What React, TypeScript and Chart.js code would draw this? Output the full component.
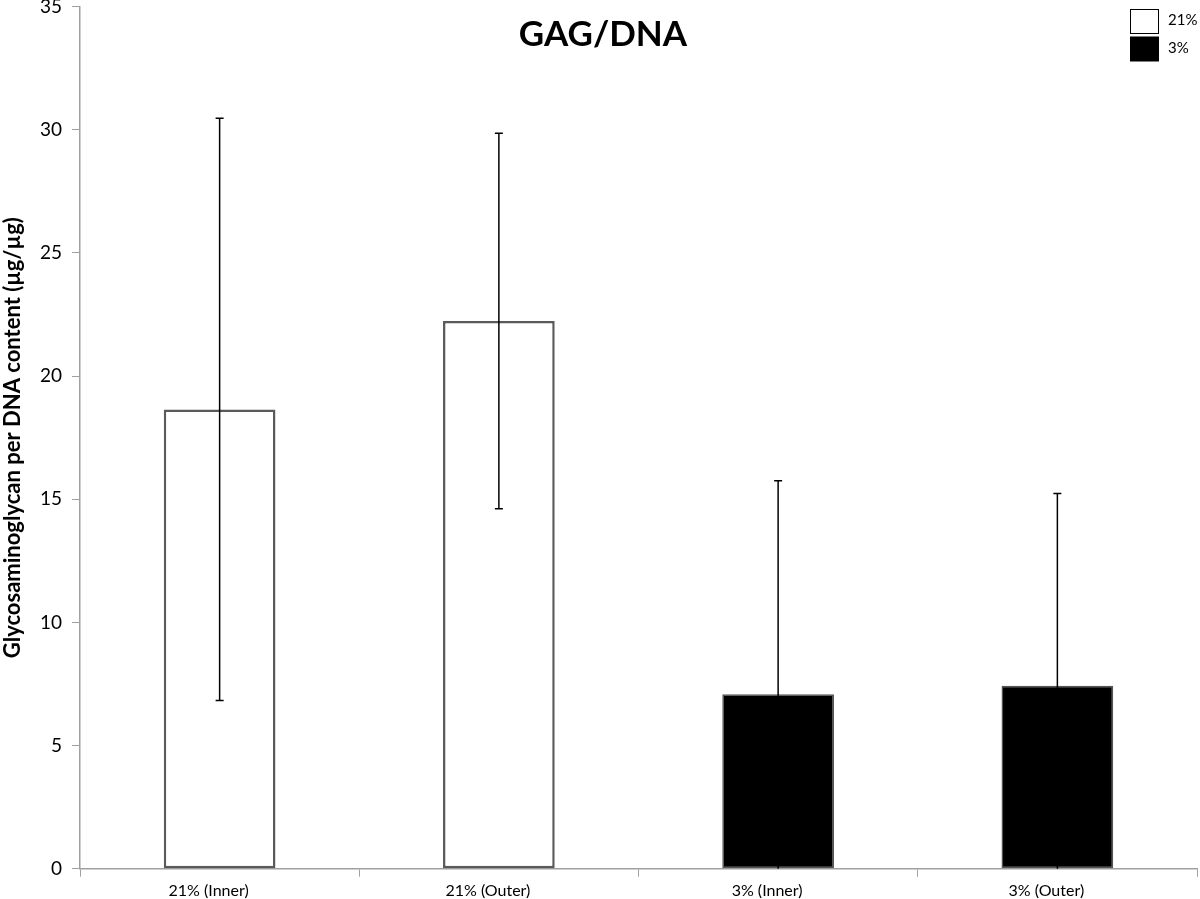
import { useEffect, useRef } from "react";
import { Chart, registerables } from "chart.js";

Chart.register(...registerables);

const categories = ["21% (Inner)", "21% (Outer)", "3% (Inner)", "3% (Outer)"];
const seriesNames = ["21%", "3%"];
const values21 = [18.65, 22.24, null, null];
const values3 = [null, null, 7.08, 7.43];
const errorValues = [11.82, 7.62, 8.67, 7.8];
const yMin = 0;
const yMax = 35;
const yStep = 5;
const titleText = "GAG/DNA";
const yAxisTitle = "Glycosaminoglycan per DNA content (µg/µg)";

const FONT = "Lato";

const errorBarPlugin = {
  id: "errorBars",
  afterDatasetsDraw(chart: any) {
    const ctx = chart.ctx;
    const yScale = chart.scales.y;
    const area = chart.chartArea;
    ctx.save();
    ctx.beginPath();
    ctx.rect(area.left, area.top, area.right - area.left, area.bottom - area.top);
    ctx.clip();
    ctx.strokeStyle = "#000";
    ctx.lineWidth = 1.5;
    chart.data.datasets.forEach((ds: any, di: number) => {
      const meta = chart.getDatasetMeta(di);
      meta.data.forEach((bar: any, i: number) => {
        const v = ds.data[i];
        if (v === null || v === undefined) return;
        const e = errorValues[i];
        const yTop = yScale.getPixelForValue(v + e);
        const yBot = yScale.getPixelForValue(v - e);
        const x = bar.x;
        ctx.beginPath();
        ctx.moveTo(x, yTop);
        ctx.lineTo(x, yBot);
        ctx.moveTo(x - 4, yTop);
        ctx.lineTo(x + 4, yTop);
        ctx.moveTo(x - 4, yBot);
        ctx.lineTo(x + 4, yBot);
        ctx.stroke();
      });
    });
    ctx.restore();
  },
};

const overlayPlugin = {
  id: "overlay",
  afterDraw(chart: any) {
    const ctx = chart.ctx;
    ctx.save();
    ctx.fillStyle = "#000";
    ctx.font = `bold 35px ${FONT}`;
    ctx.textAlign = "center";
    ctx.textBaseline = "middle";
    ctx.fillText(titleText, 603, 35);

    // legend
    const fills = ["#ffffff", "#000000"];
    ctx.font = `15px ${FONT}`;
    ctx.textAlign = "left";
    seriesNames.forEach((name, i) => {
      const y = 9.5 + i * 27.5;
      ctx.fillStyle = fills[i];
      ctx.fillRect(1130.5, y, 28, 24);
      ctx.strokeStyle = "#000";
      ctx.lineWidth = 1;
      ctx.strokeRect(1130.5, y, 28, 24);
      ctx.fillStyle = "#000";
      ctx.fillText(name, 1168, y + 11);
    });
    ctx.restore();
  },
};

export default function App() {
  const canvasRef = useRef<HTMLCanvasElement | null>(null);

  useEffect(() => {
    document.body.style.margin = "0";
    const canvas = canvasRef.current;
    if (!canvas) return;
    const chart = new Chart(canvas, {
      type: "bar",
      data: {
        labels: categories,
        datasets: [
          {
            label: seriesNames[0],
            data: values21,
            backgroundColor: "#ffffff",
            borderColor: "#5a5a5a",
            borderWidth: 2.5,
            borderSkipped: false,
            grouped: false,
            barPercentage: 0.4,
            categoryPercentage: 1,
          },
          {
            label: seriesNames[1],
            data: values3,
            backgroundColor: "#000000",
            borderColor: "#555555",
            borderWidth: 1.5,
            borderSkipped: false,
            grouped: false,
            barPercentage: 0.4,
            categoryPercentage: 1,
          },
        ],
      } as any,
      options: {
        animation: false,
        responsive: true,
        maintainAspectRatio: false,
        layout: { padding: { top: 0, right: 3, left: 0, bottom: 0 } },
        plugins: {
          legend: { display: false },
          title: { display: false },
          tooltip: { enabled: false },
        },
        scales: {
          x: {
            grid: {
              display: true,
              drawOnChartArea: false,
              drawTicks: true,
              tickLength: 8,
              color: "#a0a0a0",
              offset: true,
            },
            border: { color: "#a0a0a0", width: 1.5 },
            ticks: {
              color: "#000",
              font: { family: FONT, size: 16 },
              padding: 5,
              maxRotation: 0,
              labelOffset: -11,
            },
            afterFit: (scale: any) => {
              scale.height = 30.3;
            },
          },
          y: {
            min: yMin,
            max: yMax,
            grid: {
              display: true,
              drawOnChartArea: false,
              drawTicks: true,
              tickLength: 8,
              color: "#a0a0a0",
            },
            border: { color: "#a0a0a0", width: 1.5 },
            ticks: {
              stepSize: yStep,
              color: "#000",
              font: { family: FONT, size: 19 },
              padding: 10,
            },
            title: {
              display: true,
              text: yAxisTitle,
              color: "#000",
              font: { family: FONT, size: 22, weight: "bold" },
              padding: { top: 0, bottom: 0 },
            },
            afterFit: (scale: any) => {
              scale.width = 80;
              scale.paddingTop = 6.7;
              scale.paddingBottom = 0;
            },
          },
        },
      } as any,
      plugins: [errorBarPlugin, overlayPlugin],
    });
    return () => chart.destroy();
  }, []);

  return (
    <div style={{ width: 1200, height: 899, position: "relative" }}>
      <canvas ref={canvasRef} />
    </div>
  );
}
